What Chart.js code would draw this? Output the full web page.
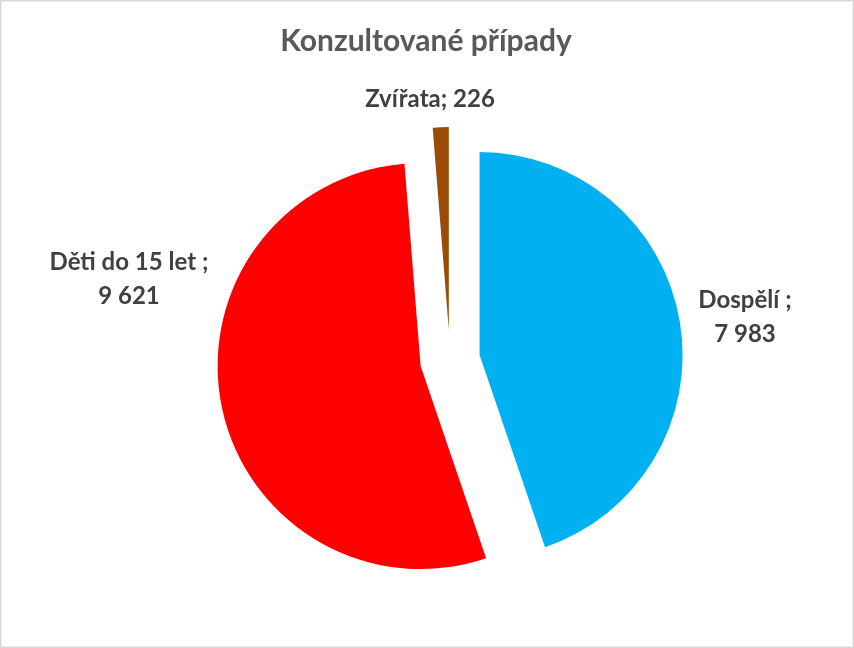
<!DOCTYPE html>
<html lang="cs">
<head>
<meta charset="utf-8">
<title>Konzultované případy</title>
<script src="https://cdn.jsdelivr.net/npm/chart.js@4/dist/chart.umd.min.js"></script>
<style>
  html, body { margin: 0; padding: 0; background: #fff; }
  #wrap { width: 854px; height: 648px; position: relative; }
</style>
</head>
<body>
<div id="wrap"><canvas id="pie"></canvas></div>
<script>
// data grafu
const nadpis = 'Konzultované případy';
const kategorie = ['Dospělí', 'Děti do 15 let', 'Zvířata'];
const hodnoty = [7983, 9621, 226];
const barvy = ['#00B0F0', '#FF0000', '#9A4B06'];

// 7983 -> "7 983"
function formatCislo(v) {
    return String(v).replace(/\B(?=(\d{3})+(?!\d))/g, ' ');
}

// popisky jako v Excelu (Zvířata na jednom řádku)
function popisek(i) {
    if (i === 2) return [kategorie[i] + '; ' + formatCislo(hodnoty[i])];
    return [kategorie[i] + ' ;', formatCislo(hodnoty[i])];
}

// rámeček a bílé pozadí
const pozadiPlugin = {
    id: 'pozadi',
    beforeDraw(chart) {
        const ctx = chart.ctx;
        ctx.save();
        ctx.fillStyle = '#ffffff';
        ctx.fillRect(0, 0, chart.width, chart.height);
        ctx.strokeStyle = '#D9D9D9';
        ctx.lineWidth = 1.5;
        ctx.strokeRect(0.75, 0.75, chart.width - 1.5, chart.height - 1.5);
        ctx.restore();
    }
};

// vysunutí výsečí od středu (explode)
const vysunutiPlugin = {
    id: 'vysunuti',
    afterDatasetUpdate(chart, args, opts) {
        const d = opts.vzdalenost || 0;
        args.meta.data.forEach(arc => {
            const uhel = (arc.startAngle + arc.endAngle) / 2;
            arc.x += Math.cos(uhel) * d;
            arc.y += Math.sin(uhel) * d;
        });
    }
};

// nadpis a popisky dat
const textPlugin = {
    id: 'texty',
    afterDatasetsDraw(chart, args, opts) {
        const ctx = chart.ctx;
        ctx.save();
        ctx.textAlign = 'center';
        ctx.textBaseline = 'middle';

        ctx.fillStyle = '#595959';
        ctx.font = opts.nadpisFont;
        ctx.fillText(nadpis, opts.nadpisX, opts.nadpisY);

        ctx.fillStyle = '#404040';
        ctx.font = opts.popisekFont;
        opts.pozice.forEach((p, i) => {
            popisek(i).forEach((radek, j) => {
                ctx.fillText(radek, p.x, p.y + j * opts.radek);
            });
        });
        ctx.restore();
    }
};

function vytvorGraf() {
    const ctx = document.getElementById('pie').getContext('2d');
    new Chart(ctx, {
        type: 'pie',
        data: {
            labels: kategorie,
            datasets: [{
                data: hodnoty,
                backgroundColor: barvy,
                borderWidth: 0,
                radius: 203
            }]
        },
        options: {
            responsive: true,
            maintainAspectRatio: false,
            animation: false,
            layout: {
                padding: { left: 46, top: 72, right: 0, bottom: 0 }
            },
            plugins: {
                legend: { display: false },
                tooltip: { enabled: false },
                title: { display: false },
                vysunuti: { vzdalenost: 30 },
                texty: {
                    nadpisFont: 'bold 30px Lato',
                    nadpisX: 426,
                    nadpisY: 41,
                    popisekFont: 'bold 24px Lato',
                    radek: 34,
                    pozice: [
                        { x: 745, y: 300 },
                        { x: 129, y: 262 },
                        { x: 430, y: 99 }
                    ]
                }
            }
        },
        plugins: [pozadiPlugin, vysunutiPlugin, textPlugin]
    });
}

document.addEventListener('DOMContentLoaded', vytvorGraf);
</script>
</body>
</html>
